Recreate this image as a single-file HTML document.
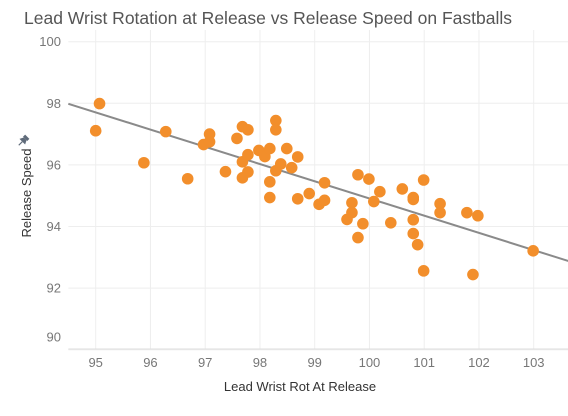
<!DOCTYPE html>
<html><head><meta charset="utf-8"><style>
body{margin:0;background:#fff;font-family:"Liberation Sans",sans-serif}
</style></head><body>
<svg id="c" width="568" height="411" xmlns="http://www.w3.org/2000/svg">
<text x="24" y="24" font-size="17.5" fill="#555">Lead Wrist Rotation at Release vs Release Speed on Fastballs</text>
<g id="grid"></g><g id="trend"></g><g id="pts"></g><g id="axes"></g>
<text transform="translate(31,193) rotate(-90)" text-anchor="middle" font-size="13" fill="#333">Release Speed</text>
<g transform="translate(23,141) rotate(45)" fill="#5f6b7a">
<rect x="-3" y="-6" width="6" height="3"/><polygon points="-2,-3 2,-3 4,1 -4,1"/><rect x="-0.6" y="1" width="1.2" height="5"/>
</g>
<text x="300" y="391" text-anchor="middle" font-size="13" fill="#333">Lead Wrist Rot At Release</text>
</svg>
<script>
const xTicks=[95,96,97,98,99,100,101,102,103];
const yTicks=[90,92,94,96,98,100];
const xVals=[95.0,95.07,95.88,96.28,96.68,96.97,97.08,97.08,97.37,97.58,97.68,97.78,97.68,97.78,97.68,97.78,97.98,98.09,98.18,98.18,98.18,98.29,98.29,98.29,98.38,98.49,98.58,98.69,98.69,98.9,99.08,99.18,99.18,99.59,99.68,99.68,99.79,99.79,99.88,99.99,100.08,100.19,100.39,100.6,100.8,100.8,100.8,100.8,100.88,100.99,100.99,101.29,101.29,101.78,101.98,101.89,102.99];
const yVals=[97.11,97.99,96.07,97.08,95.55,96.66,97.0,96.75,95.78,96.86,97.24,97.14,96.1,96.33,95.58,95.77,96.47,96.27,96.53,95.45,94.94,97.44,97.14,95.81,96.03,96.53,95.91,96.26,94.9,95.07,94.72,94.85,95.42,94.23,94.77,94.45,95.68,93.64,94.09,95.54,94.81,95.13,94.12,95.22,94.94,94.88,94.22,93.77,93.41,95.51,92.56,94.74,94.45,94.45,94.35,92.44,93.21];
const trendSlope=-0.559;
const trendIntercept=150.81;
const X=v=>95.7+(v-95)*54.75, Y=v=>103.3-(v-98)*30.8;
const NS="http://www.w3.org/2000/svg";
function mk(p,t,a){const e=document.createElementNS(NS,t);for(const k in a)e.setAttribute(k,a[k]);document.getElementById(p).appendChild(e);return e;}
const xmin=94.5,xmax=103.63,L=X(xmin),R=568,B=349;
xTicks.forEach(v=>{const l=mk('grid','line',{x1:X(v),x2:X(v),y1:30,y2:B,stroke:'#eee'});


const t=mk('axes','text',{x:X(v),y:367,'text-anchor':'middle','font-size':13,fill:'#777'});t.textContent=v;

});
yTicks.forEach(v=>{const l=mk('grid','line',{x1:L,x2:R,y1:Y(v),y2:Y(v),stroke:'#eee'});


const ty=v===90?Y(v)-8:Y(v)+4.5;
const t=mk('axes','text',{x:61,y:ty,'text-anchor':'end','font-size':13,fill:'#777'});t.textContent=v;

});
const ax=mk('grid','line',{x1:L,x2:R,y1:B,y2:B,stroke:'#ddd'});


const tl=mk('trend','line',{x1:X(xmin),y1:Y(trendIntercept+trendSlope*xmin),x2:X(xmax),y2:Y(trendIntercept+trendSlope*xmax),stroke:'#8a8a8a','stroke-width':2});


xVals.forEach((v,i)=>{const c=mk('pts','circle',{cx:X(v),cy:Y(yVals[i]),r:5.8,fill:'#f28e2b'});

});
</script>
</body></html>
